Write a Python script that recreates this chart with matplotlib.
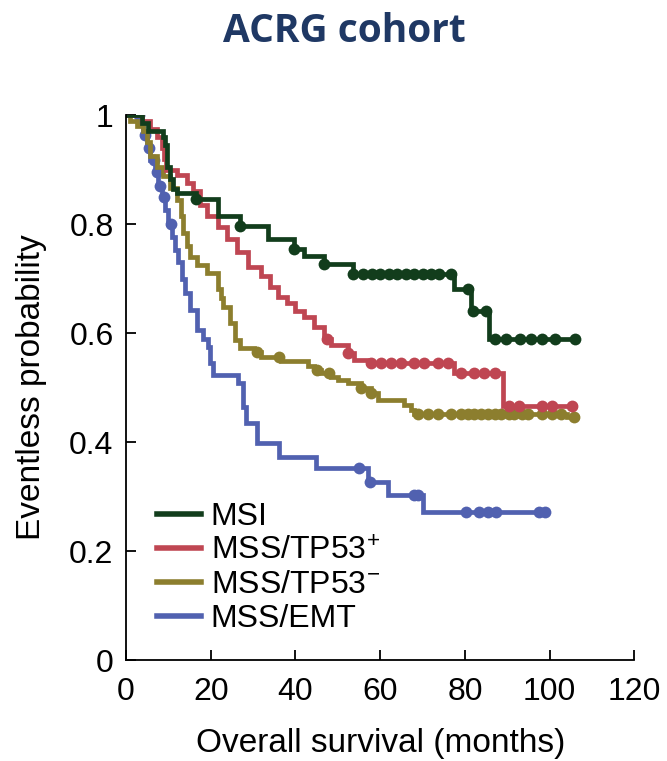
import numpy as np
import matplotlib
matplotlib.use("Agg")
import matplotlib.pyplot as plt

plt.rcParams['font.family'] = ['Liberation Sans', 'DejaVu Sans']
plt.rcParams['mathtext.fontset'] = 'custom'
plt.rcParams['mathtext.rm'] = 'Liberation Sans'
plt.rcParams['mathtext.it'] = 'Liberation Sans'

# Kaplan-Meier step data (months, probability)
msi_t = [0, 3.8, 5.2, 8.8, 9.2, 9.7, 10.4, 11.1, 12.1, 16.4, 21.6, 27.0, 33.4, 39.6,
         41.9, 46.7, 53.6, 77.5, 81.5, 85.8]
msi_s = [1.0, 0.985, 0.97, 0.96, 0.945, 0.905, 0.882, 0.864, 0.858, 0.846, 0.814, 0.796,
         0.772, 0.754, 0.741, 0.726, 0.708, 0.68, 0.64, 0.59]
msi_end = 106.4
msi_cens = [16.4, 27, 39.6, 46.7, 53.6, 56, 58, 60, 62, 64, 66, 68, 70, 72, 74, 76.8,
            80.8, 82, 85, 87, 89.8, 92.9, 95.7, 98.1, 101.2, 105.9]

tp53p_t = [0, 3.8, 5.7, 7.3, 8.5, 9.0, 9.5, 12.1, 14.5, 15.9, 17.5, 19.2, 21.6, 23.9,
           26.3, 28.7, 31.8, 34.1, 35.8, 38.0, 40.0, 41.9, 44.3, 46.7, 48.3, 52.4,
           53.8, 57.1, 77.5, 89.1]
tp53p_s = [1.0, 0.99, 0.975, 0.96, 0.94, 0.92, 0.9, 0.89, 0.875, 0.86, 0.835, 0.815,
           0.795, 0.772, 0.748, 0.722, 0.704, 0.685, 0.667, 0.655, 0.64, 0.63, 0.612,
           0.59, 0.578, 0.564, 0.551, 0.546, 0.527, 0.466]
tp53p_end = 105.9
tp53p_cens = [47.5, 52.4, 57.8, 60.2, 62.6, 65, 68, 70.4, 73.7, 76.1, 79.1, 82.2, 84.6,
              87, 90.3, 92.7, 98.1, 100.5, 105.2]

tp53n_t = [0, 1.0, 2.6, 4.0, 5.0, 5.7, 7.3, 8.8, 10.4, 12.1, 13.0, 13.5, 14.5, 15.2,
           16.8, 19.2, 21.6, 22.3, 23.0, 24.6, 25.8, 27.0, 30.1, 31.8, 36.5, 42.9,
           44.3, 46.0, 48.3, 50.0, 52.4, 55.5, 57.8, 59.5, 65.6, 67.3, 68.0, 104.0]
tp53n_s = [1.0, 0.99, 0.98, 0.97, 0.95, 0.925, 0.905, 0.888, 0.866, 0.845, 0.815, 0.784,
           0.76, 0.74, 0.725, 0.711, 0.68, 0.665, 0.648, 0.619, 0.588, 0.573, 0.566,
           0.557, 0.548, 0.54, 0.532, 0.526, 0.52, 0.514, 0.508, 0.5, 0.49, 0.477,
           0.468, 0.458, 0.452, 0.446]
tp53n_end = 106.4
tp53n_cens = [31, 36, 45, 48, 55.5, 57.8, 69, 71.3, 73.7, 76.8, 79.1, 80.8, 82.2, 83.9,
              85.5, 87, 88.6, 90.3, 91.7, 93.4, 95, 98.1, 100.5, 102.8, 105.7]

emt_t = [0, 3.3, 4.0, 5.0, 5.7, 6.9, 7.6, 8.5, 9.2, 10.0, 10.9, 11.6, 12.3, 13.3, 14.0,
         15.2, 16.8, 18.2, 19.4, 19.9, 20.6, 26.5, 27.5, 27.7, 28.2, 31.0, 36.0, 44.8,
         57.1, 61.8, 70.2]
emt_s = [1.0, 0.985, 0.963, 0.94, 0.917, 0.895, 0.87, 0.85, 0.826, 0.8, 0.776, 0.753,
         0.73, 0.7, 0.673, 0.642, 0.606, 0.59, 0.575, 0.545, 0.523, 0.508, 0.49, 0.464,
         0.435, 0.398, 0.373, 0.352, 0.327, 0.303, 0.272]
emt_end = 99.5
emt_cens = [3, 4.5, 5.5, 6.5, 7.3, 8, 9, 10.5, 55, 57.5, 68, 69, 80.3, 83.4, 85.5, 87.4,
            97.4, 98.8]

labels = ['MSI', r'MSS/TP53$^{+}$', r'MSS/TP53$^{-}$', 'MSS/EMT']
colors = ['#123d1c', '#bf4652', '#8c7e2e', '#5161b0']

curves = [
    (msi_t, msi_s, msi_end, msi_cens),
    (tp53p_t, tp53p_s, tp53p_end, tp53p_cens),
    (tp53n_t, tp53n_s, tp53n_end, tp53n_cens),
    (emt_t, emt_s, emt_end, emt_cens),
]

fig = plt.figure(figsize=(6.67, 7.61), dpi=100)
ax = fig.add_axes([0.189, 0.1327, 0.762, 0.716])

# draw back to front so MSI ends up on top
for idx in [3, 2, 1, 0]:
    t, s, end, cens = curves[idx]
    tt = np.array(t + [end])
    ss = np.array(s + [s[-1]])
    ax.step(tt, ss, where='post', color=colors[idx], lw=3.4, label=labels[idx],
            solid_joinstyle='miter')
    cens = np.array(cens)
    pos = np.searchsorted(np.array(t), cens, side='right') - 1
    ax.plot(cens, np.array(s)[pos], 'o', color=colors[idx], markersize=8.5,
            markeredgewidth=0)

ax.set_xlim(0, 120)
ax.set_ylim(0, 1)
ax.set_xticks([0, 20, 40, 60, 80, 100, 120])
ax.set_yticks([0, 0.2, 0.4, 0.6, 0.8, 1.0])
ax.set_yticklabels(['0', '0.2', '0.4', '0.6', '0.8', '1'])
ax.spines['top'].set_visible(False)
ax.spines['right'].set_visible(False)
for sp in ['left', 'bottom']:
    ax.spines[sp].set_linewidth(1.3)
ax.tick_params(direction='in', length=7, width=1.3, labelsize=23, pad=9)
ax.tick_params(axis='x', pad=12)
ax.set_xlabel('Overall survival (months)', fontsize=24, labelpad=15)
ax.set_ylabel('Eventless probability', fontsize=24, labelpad=16)

handles, labs = ax.get_legend_handles_labels()
order = [labs.index(l) for l in labels]
leg = ax.legend([handles[i] for i in order], [labs[i] for i in order],
                loc='upper left', bbox_to_anchor=(0.06, 0.29), frameon=False,
                fontsize=23, handlelength=1.4, handletextpad=0.3,
                labelspacing=0.13, borderpad=0, borderaxespad=0)
for line in leg.get_lines():
    line.set_linewidth(4)

fig.text(0.517, 0.958, 'ACRG cohort', ha='center', va='center', fontsize=28,
         fontweight='bold', color='#1f3864', family=['Open Sans', 'DejaVu Sans'])

fig.savefig('out.png', dpi=100)
